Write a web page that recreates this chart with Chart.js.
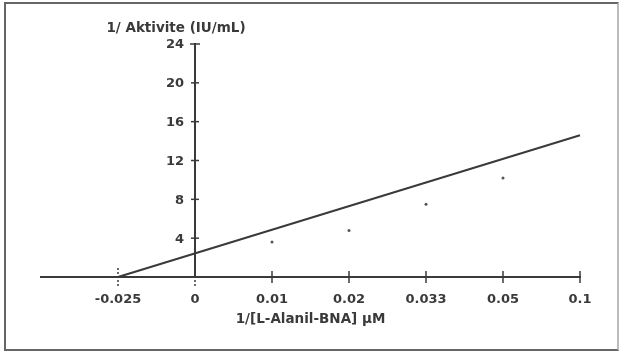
<!DOCTYPE html>
<html><head><meta charset="utf-8">
<script src="https://cdn.jsdelivr.net/npm/chart.js@4.4.1/dist/chart.umd.min.js"></script>
<style>
html,body{margin:0;padding:0;background:#fff;}
#wrap{position:relative;width:620px;height:354px;}
#frame{position:absolute;left:4px;top:2px;width:611px;height:345px;border:2px solid #666;border-right-color:#bbb;pointer-events:none;}
</style></head><body>
<div id="wrap"><canvas id="c" width="620" height="354"></canvas><div id="frame"></div></div>
<script>
const xLabels = ['-0.025','0','0.01','0.02','0.033','0.05','0.1'];
const yTicks = [4,8,12,16,20,24];
const pointCats = ['0.01','0.02','0.033','0.05'];
const pointValues = [3.6,4.8,7.5,10.2];
const lineCats = ['-0.025','0.1'];
const lineValues = [0,14.6];
const xTitle = '1/[L-Alanil-BNA] µM';
const yTitle = '1/ Aktivite (IU/mL)';

const idx = c => xLabels.indexOf(c);
const INK = '#3a3a3a';
const FONT = 'DejaVu Sans';

const axisMarks = {
  id: 'axisMarks',
  afterDatasetsDraw(chart) {
    const {ctx, scales: {x, y}} = chart;
    const x0 = x.getPixelForValue(idx('0'));
    const y0 = y.getPixelForValue(0);
    ctx.save();
    ctx.strokeStyle = INK;
    ctx.lineWidth = 1.5;
    const seg = (a, b, c, d) => { ctx.beginPath(); ctx.moveTo(a, b); ctx.lineTo(c, d); ctx.stroke(); };
    ctx.fillStyle = INK;
    ctx.font = 'bold 13px "' + FONT + '"';
    ctx.textAlign = 'right';
    ctx.textBaseline = 'middle';
    yTicks.forEach(v => {
      const py = y.getPixelForValue(v);
      const h = v === yTicks[yTicks.length - 1] ? 5 : 4;
      seg(x0 - h, py, x0 + h, py);
      ctx.fillText(String(v), x0 - 11, py + 1);
    });
    xLabels.forEach((l, i) => {
      const px = x.getPixelForValue(i);
      if (i <= 1) { ctx.setLineDash([2, 2]); seg(px, y0 - 9, px, y0 + 9); }
      else { ctx.setLineDash([]); seg(px, y0 - 6, px, y0 + 6); }
    });
    ctx.setLineDash([]);
    // y-axis title, horizontal above the axis
    ctx.font = 'bold 13.5px "' + FONT + '"';
    ctx.textAlign = 'center';
    ctx.fillText(yTitle, x0 - 19, y.top - 16);
    ctx.restore();
  }
};

new Chart(document.getElementById('c'), {
  type: 'scatter',
  data: {
    datasets: [
      {
        data: lineCats.map((c, i) => ({x: idx(c), y: lineValues[i]})),
        showLine: true,
        borderColor: INK,
        borderWidth: 2,
        pointRadius: 0,
        clip: false
      },
      {
        data: pointCats.map((c, i) => ({x: idx(c), y: pointValues[i]})),
        pointRadius: 1.5,
        pointBackgroundColor: '#555',
        pointBorderWidth: 0,
        clip: false
      }
    ]
  },
  options: {
    responsive: false,
    animation: false,
    events: [],
    layout: {padding: {left: 41, right: 40, top: 44, bottom: 0}},
    plugins: {legend: {display: false}, tooltip: {enabled: false}},
    scales: {
      x: {
        type: 'linear',
        position: 'bottom',
        min: -1, max: 6,
        afterBuildTicks: s => { s.ticks = xLabels.map((l, i) => ({value: i})); },
        afterFit: s => { s.height = 77; },
        ticks: {
          callback: v => xLabels[v] ?? '',
          color: INK,
          font: {family: FONT, weight: 'bold', size: 13},
          padding: 15,
          maxRotation: 0,
          autoSkip: false
        },
        grid: {display: false, drawTicks: false, tickLength: 0},
        border: {display: true, color: INK, width: 2},
        title: {
          display: true,
          text: xTitle,
          color: INK,
          font: {family: FONT, weight: 'bold', size: 13.5},
          padding: {top: 0, bottom: 26}
        }
      },
      y: {
        type: 'linear',
        position: {x: idx('0')},
        min: 0, max: 24,
        afterBuildTicks: s => { s.ticks = [0, ...yTicks].map(v => ({value: v})); },
        ticks: {display: false},
        grid: {display: false, drawTicks: false, tickLength: 0},
        border: {display: true, color: INK, width: 2}
      }
    }
  },
  plugins: [axisMarks]
});
</script>
</body></html>
